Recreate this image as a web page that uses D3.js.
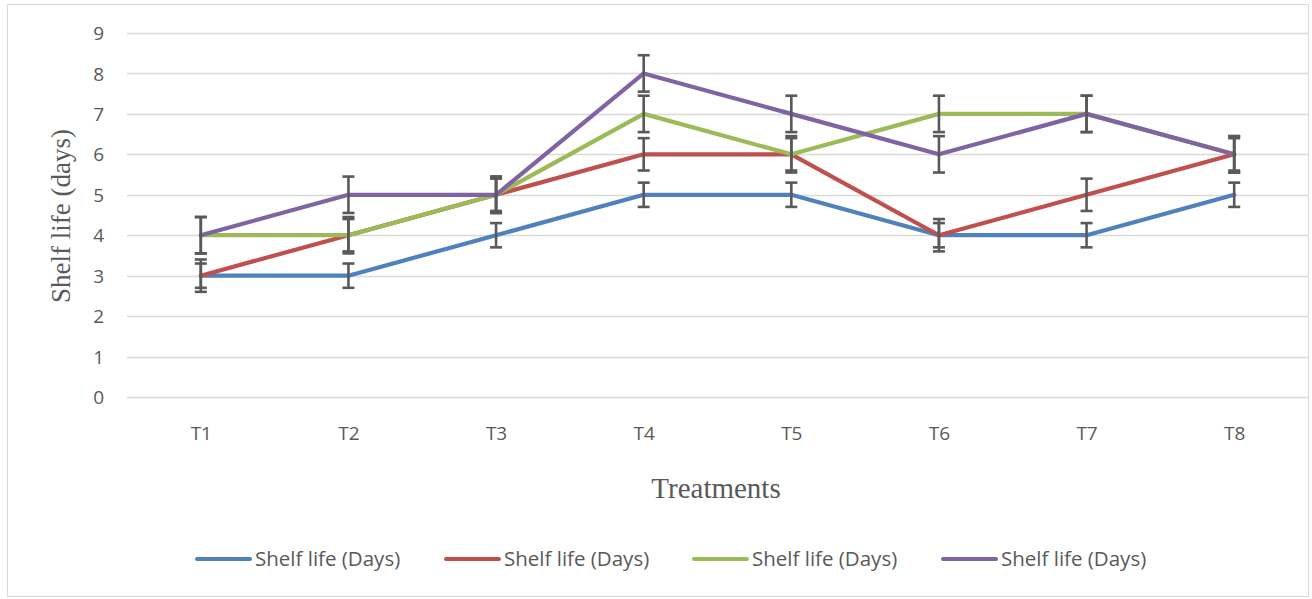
<!DOCTYPE html>
<html>
<head>
<meta charset="utf-8">
<script src="https://cdn.jsdelivr.net/npm/d3@7"></script>
<style>
  body { margin: 0; background: #fff; }
  svg { display: block; }
  .tick-lbl { font-family: "Open Sans", sans-serif; fill: #595959; }
</style>
</head>
<body>
<div id="chart"></div>
<script>
// Data
var treatments = ["T1", "T2", "T3", "T4", "T5", "T6", "T7", "T8"];
var yTicks = [0, 1, 2, 3, 4, 5, 6, 7, 8, 9];

var blueValues   = [3, 3, 4, 5, 5, 4, 4, 5];
var redValues    = [3, 4, 5, 6, 6, 4, 5, 6];
var greenValues  = [4, 4, 5, 7, 6, 7, 7, 6];
var purpleValues = [4, 5, 5, 8, 7, 6, 7, 6];

var blueErrors   = [0.3, 0.3, 0.3, 0.3, 0.3, 0.3, 0.3, 0.3];
var redErrors    = [0.4, 0.4, 0.4, 0.4, 0.4, 0.4, 0.4, 0.4];
var greenErrors  = [0.45, 0.45, 0.45, 0.45, 0.45, 0.45, 0.45, 0.45];
var purpleErrors = [0.45, 0.45, 0.45, 0.45, 0.45, 0.45, 0.45, 0.45];

var seriesNames = ["Shelf life (Days)", "Shelf life (Days)", "Shelf life (Days)", "Shelf life (Days)"];
var seriesColors = ["#4F81BD", "#C0504D", "#9BBB59", "#8064A2"];

var series = [
	{name: seriesNames[0], color: seriesColors[0], values: blueValues, errors: blueErrors},
	{name: seriesNames[1], color: seriesColors[1], values: redValues, errors: redErrors},
	{name: seriesNames[2], color: seriesColors[2], values: greenValues, errors: greenErrors},
	{name: seriesNames[3], color: seriesColors[3], values: purpleValues, errors: purpleErrors}
];

var W = 1312, H = 599;
var plot = {left: 127, right: 1308, top: 33, bottom: 397};

var svg = d3.select("#chart").append("svg")
	.attr("width", W)
	.attr("height", H);

// chart border
svg.append("rect")
	.attr("x", 7.5).attr("y", 4.5)
	.attr("width", 1301).attr("height", 592)
	.attr("fill", "none")
	.attr("stroke", "#D9D9D9")
	.attr("stroke-width", 1);

var x = d3.scalePoint()
	.domain(treatments)
	.range([plot.left, plot.right])
	.padding(0.5);

var y = d3.scaleLinear()
	.domain([0, 9])
	.range([plot.bottom, plot.top]);

// gridlines
svg.append("g").selectAll("line")
	.data(yTicks)
	.enter().append("line")
	.attr("x1", plot.left).attr("x2", plot.right)
	.attr("y1", function(d) { return Math.round(y(d)) + 0.5; })
	.attr("y2", function(d) { return Math.round(y(d)) + 0.5; })
	.attr("stroke", "#D9D9D9")
	.attr("stroke-width", 1.3);

// y axis labels
var yAxis = d3.axisLeft(y).tickValues(yTicks).tickSize(0).tickPadding(0);
var gy = svg.append("g")
	.attr("transform", "translate(104,0)")
	.call(yAxis);
gy.select(".domain").remove();
gy.selectAll("text")
	.attr("class", "tick-lbl")
	.attr("font-size", "19px")
	.attr("dy", "0.35em");

// x axis labels
var xAxis = d3.axisBottom(x).tickSize(0).tickPadding(0);
var gx = svg.append("g")
	.attr("transform", "translate(0,426)")
	.call(xAxis);
gx.select(".domain").remove();
gx.selectAll("text")
	.attr("class", "tick-lbl")
	.attr("font-size", "19px")
	.attr("dy", "0.71em");

// axis titles
svg.append("text")
	.attr("transform", "translate(70,216) rotate(-90)")
	.attr("text-anchor", "middle")
	.attr("font-family", "'Liberation Serif', 'Times New Roman', serif")
	.attr("font-size", "27px")
	.attr("fill", "#595959")
	.text("Shelf life (days)");

svg.append("text")
	.attr("x", 716)
	.attr("y", 498)
	.attr("text-anchor", "middle")
	.attr("font-family", "'Liberation Serif', 'Times New Roman', serif")
	.attr("font-size", "29px")
	.attr("fill", "#595959")
	.text("Treatments");

// lines
var line = d3.line()
	.x(function(d, i) { return x(treatments[i]); })
	.y(function(d) { return y(d); });

svg.append("g").selectAll("path")
	.data(series)
	.enter().append("path")
	.attr("d", function(s) { return line(s.values); })
	.attr("fill", "none")
	.attr("stroke", function(s) { return s.color; })
	.attr("stroke-width", 4.2)
	.attr("stroke-linejoin", "round")
	.attr("stroke-linecap", "round");

// error bars
var capW = 6;
series.forEach(function(s) {
	var g = svg.append("g")
		.attr("stroke", "#595959")
		.attr("stroke-width", 2.6);
	s.values.forEach(function(v, i) {
		var cx = x(treatments[i]);
		var hi = y(v + s.errors[i]), lo = y(v - s.errors[i]);
		g.append("line").attr("x1", cx).attr("x2", cx).attr("y1", hi).attr("y2", lo);
		g.append("line").attr("x1", cx - capW).attr("x2", cx + capW).attr("y1", hi).attr("y2", hi);
		g.append("line").attr("x1", cx - capW).attr("x2", cx + capW).attr("y1", lo).attr("y2", lo);
	});
});

// legend
var legendX = [197, 446, 694, 943];
var legend = svg.append("g").selectAll("g")
	.data(series)
	.enter().append("g")
	.attr("transform", function(d, i) { return "translate(" + legendX[i] + ",559)"; });

legend.append("line")
	.attr("x1", 0).attr("x2", 53)
	.attr("y1", 0).attr("y2", 0)
	.attr("stroke", function(d) { return d.color; })
	.attr("stroke-width", 4)
	.attr("stroke-linecap", "round");

legend.append("text")
	.attr("x", 58)
	.attr("dy", "0.35em")
	.attr("class", "tick-lbl")
	.attr("font-size", "20.5px")
	.text(function(d) { return d.name; });
</script>
</body>
</html>
